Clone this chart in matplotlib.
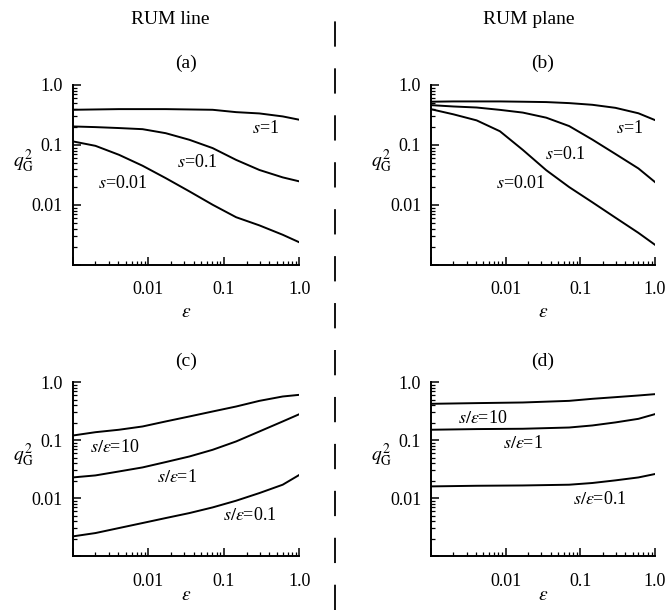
import numpy as np
import matplotlib
matplotlib.use("Agg")
import matplotlib.pyplot as plt
from matplotlib.lines import Line2D
from matplotlib.ticker import FixedLocator, FixedFormatter, LogLocator, NullFormatter

matplotlib.rcParams.update({"font.family": "Liberation Serif", "font.size": 13,
                            "mathtext.fontset": "stix"})

# epsilon values where the curves were read
eps_grid = [0.001, 0.002, 0.0041, 0.0084, 0.017, 0.035, 0.071, 0.145, 0.295, 0.6, 1.0]

# (a) RUM line, fixed s
a_s1 = [0.383, 0.388, 0.393, 0.393, 0.393, 0.388, 0.383, 0.350, 0.333, 0.297, 0.261]
a_s01 = [0.202, 0.197, 0.190, 0.182, 0.156, 0.121, 0.088, 0.056, 0.038, 0.0286, 0.0245]
a_s001 = [0.114, 0.096, 0.068, 0.0447, 0.0278, 0.0167, 0.010, 0.0062, 0.00453, 0.00316, 0.00236]

# (b) RUM plane, fixed s
b_s1 = [0.522, 0.528, 0.528, 0.528, 0.522, 0.515, 0.495, 0.464, 0.413, 0.335, 0.258]
b_s01 = [0.458, 0.435, 0.418, 0.382, 0.344, 0.283, 0.205, 0.122, 0.0703, 0.0403, 0.0239]
b_s001 = [0.392, 0.322, 0.255, 0.168, 0.0822, 0.0377, 0.0197, 0.011, 0.0061, 0.0034, 0.00215]

# (c) RUM line, fixed s/eps
c_r10 = [0.120, 0.137, 0.151, 0.172, 0.210, 0.256, 0.312, 0.380, 0.476, 0.566, 0.605]
c_r1 = [0.0227, 0.0246, 0.0288, 0.0338, 0.0418, 0.0522, 0.0681, 0.0948, 0.141, 0.210, 0.281]
c_r01 = [0.00218, 0.00249, 0.00304, 0.00371, 0.00452, 0.00551, 0.0069, 0.009, 0.0122, 0.017, 0.0252]

# (d) RUM plane, fixed s/eps
eps_d = [0.001, 0.0041, 0.017, 0.071, 0.145, 0.295, 0.6, 1.0]
d_r10 = [0.423, 0.435, 0.446, 0.476, 0.516, 0.551, 0.589, 0.621]
d_r1 = [0.151, 0.155, 0.157, 0.165, 0.179, 0.202, 0.233, 0.281]
d_r01 = [0.0159, 0.0163, 0.0165, 0.017, 0.0182, 0.0202, 0.0227, 0.026]

tick_vals = [0.01, 0.1, 1.0]
tick_txt = ["0.01", "0.1", "1.0"]


def setup(ax):
    ax.set_xscale("log")
    ax.set_yscale("log")
    ax.set_xlim(1e-3, 1.0)
    ax.set_ylim(1e-3, 1.0)
    ax.spines["top"].set_visible(False)
    ax.spines["right"].set_visible(False)
    ax.spines["left"].set_linewidth(1.4)
    ax.spines["bottom"].set_linewidth(1.4)
    for axis in (ax.xaxis, ax.yaxis):
        axis.set_major_locator(FixedLocator([1e-3] + tick_vals))
        axis.set_major_formatter(FixedFormatter([""] + tick_txt))
        axis.set_minor_locator(LogLocator(base=10, subs=np.arange(2, 10)))
        axis.set_minor_formatter(NullFormatter())
    ax.tick_params(which="major", direction="in", length=6, width=1.1, labelsize=13)
    ax.tick_params(which="minor", direction="in", length=3, width=0.9)
    ax.tick_params(axis="y", which="major", pad=7)
    ax.tick_params(axis="x", which="major", pad=12)


fig = plt.figure(figsize=(6.67, 6.10), dpi=100)
ax_a = fig.add_axes([0.109, 0.566, 0.340, 0.295])
ax_b = fig.add_axes([0.646, 0.566, 0.336, 0.295])
ax_c = fig.add_axes([0.109, 0.0885, 0.340, 0.285])
ax_d = fig.add_axes([0.646, 0.0885, 0.336, 0.285])

panels = [
    (ax_a, "(a)", eps_grid, [a_s1, a_s01, a_s001],
     ["$s$=1", "$s$=0.1", "$s$=0.01"], [(0.36, 0.19), (0.044, 0.05), (0.0046, 0.023)], 4),
    (ax_b, "(b)", eps_grid, [b_s1, b_s01, b_s001],
     ["$s$=1", "$s$=0.1", "$s$=0.01"], [(0.45, 0.19), (0.063, 0.068), (0.016, 0.023)], 4),
    (ax_c, "(c)", eps_grid, [c_r10, c_r1, c_r01],
     [r"$s/\epsilon$=10", r"$s/\epsilon$=1", r"$s/\epsilon$=0.1"],
     [(0.0036, 0.076), (0.024, 0.023), (0.22, 0.0051)], -2),
    (ax_d, "(d)", eps_d, [d_r10, d_r1, d_r01],
     [r"$s/\epsilon$=10", r"$s/\epsilon$=1", r"$s/\epsilon$=0.1"],
     [(0.005, 0.24), (0.017, 0.089), (0.18, 0.0093)], -2),
]

for ax, tag, ex, curves, labs, pos, lp in panels:
    setup(ax)
    for yv in curves:
        ax.plot(ex, yv, color="black", lw=1.4)
    for lab, (px, py) in zip(labs, pos):
        ax.text(px, py, lab, ha="center", va="center", fontsize=13)
    ax.set_title(tag, fontsize=14, pad=12)
    ax.set_xlabel(r"$\epsilon$", fontsize=14, labelpad=lp)
    ax.set_ylabel(r"$q_{\rm G}^2$", fontsize=14, rotation=0, labelpad=6)

fig.text(0.255, 0.968, "RUM line", ha="center", va="center", fontsize=14)
fig.text(0.792, 0.968, "RUM plane", ha="center", va="center", fontsize=14)

fig.add_artist(Line2D([0.502, 0.502], [0.0, 0.985], transform=fig.transFigure,
                      color="black", lw=1.3, dashes=(14, 12)))

fig.savefig("out.png", dpi=100)
